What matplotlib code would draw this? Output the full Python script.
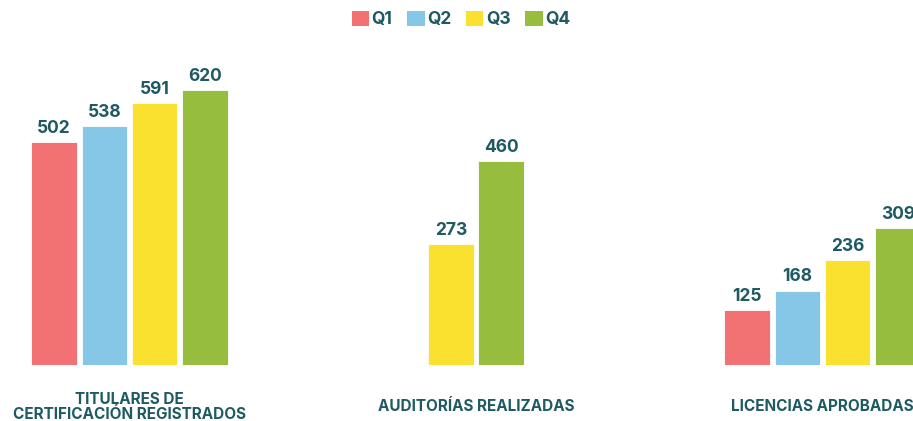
import numpy as np
import matplotlib
matplotlib.use("Agg")
import matplotlib.pyplot as plt
from matplotlib.patches import Patch

# data
categories = ["TITULARES DE\nCERTIFICACIÓN REGISTRADOS", "AUDITORÍAS REALIZADAS", "LICENCIAS APROBADAS"]
series_names = ["Q1", "Q2", "Q3", "Q4"]
q1 = [502, None, 125]
q2 = [538, None, 168]
q3 = [591, 273, 236]
q4 = [620, 460, 309]

colors = ["#f27173", "#86c6e6", "#fae12f", "#97bd3e"]
text_color = "#1f5a62"

plt.rcParams["font.family"] = ["Inter", "DejaVu Sans"]

fig = plt.figure(figsize=(9.13, 4.21), dpi=100)
# axes spans the full width, baseline ~365px from the top
ax = fig.add_axes([0, (421 - 365) / 421, 1, 305 / 421])

bar_w = 0.1313
step = 0.1457

all_series = [q1, q2, q3, q4]
for ci in range(len(categories)):
    # skip empty values and center the remaining bars (like skipNull)
    present = [si for si in range(len(all_series)) if all_series[si][ci] is not None]
    n = len(present)
    for k, si in enumerate(present):
        val = all_series[si][ci]
        x = ci + (k - (n - 1) / 2) * step
        ax.bar(x, val, width=bar_w, color=colors[si], edgecolor="white", linewidth=0.6)
        ax.annotate(f"{val}", (x, val), textcoords="offset points", xytext=(0, 6.5),
                    ha="center", va="baseline", fontsize=12.5, fontweight="bold",
                    color=text_color)

ax.set_xlim(-129.5 / 346.5, (913 - 129.5) / 346.5)
ax.set_ylim(0, 688)
ax.set_xticks(range(len(categories)))
ax.set_xticklabels(categories, fontsize=11, fontweight="bold", color=text_color,
                   linespacing=1.0)
for lbl in ax.get_xticklabels():
    lbl.set_verticalalignment("center")
ax.tick_params(axis="x", length=0, pad=30)
ax.set_yticks([])
for s in ax.spines.values():
    s.set_visible(False)

handles = [Patch(facecolor=c, edgecolor="none") for c in colors]
leg = fig.legend(handles, series_names, loc="center", bbox_to_anchor=(0.505, 1 - 19.5 / 421),
                 ncol=4, frameon=False, handlelength=1.0, handleheight=1.0,
                 handletextpad=0.15, columnspacing=0.85,
                 prop={"size": 12.5, "weight": "bold"})
for t in leg.get_texts():
    t.set_color(text_color)

fig.savefig("out.png", dpi=100)
